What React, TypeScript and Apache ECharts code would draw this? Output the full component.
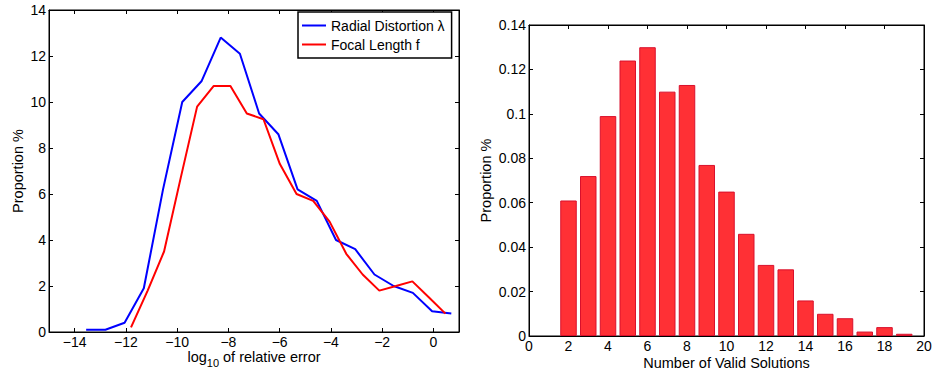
import React, { useEffect, useRef } from "react";
import * as echarts from "echarts";

// Left chart: histogram of log10 relative errors (proportion %)
const radialX = [-13.55, -12.8, -12.05, -11.3, -10.55, -9.8, -9.05, -8.3, -7.55, -6.8, -6.05, -5.3, -4.55, -3.8, -3.05, -2.3, -1.55, -0.8, -0.05, 0.7];
const radialY = [0.1, 0.1, 0.4, 1.9, 6.2, 10.0, 10.9, 12.8, 12.1, 9.5, 8.6, 6.2, 5.7, 4.0, 3.6, 2.5, 2.0, 1.7, 0.9, 0.8];
const focalX = [-11.8, -11.15, -10.51, -9.86, -9.22, -8.57, -7.92, -7.28, -6.63, -5.99, -5.34, -4.69, -4.05, -3.4, -2.76, -2.11, -1.46, -0.82, -0.17, 0.47];
const focalY = [0.2, 1.8, 3.5, 6.7, 9.8, 10.7, 10.7, 9.5, 9.25, 7.3, 6.0, 5.7, 4.8, 3.4, 2.5, 1.8, 2.0, 2.2, 1.5, 0.8];
const leftXTicks = [-14, -12, -10, -8, -6, -4, -2, 0];

// Right chart: number of valid solutions
const solutionCounts = [2, 3, 4, 5, 6, 7, 8, 9, 10, 11, 12, 13, 14, 15, 16, 17, 18, 19];
const solutionProportions = [0.061, 0.072, 0.099, 0.124, 0.13, 0.11, 0.113, 0.077, 0.065, 0.046, 0.032, 0.03, 0.016, 0.01, 0.008, 0.002, 0.004, 0.001];

const FONT = "Liberation Sans";

export default function App() {
  const ref = useRef<HTMLDivElement>(null);
  useEffect(() => {
    document.body.style.margin = "0";
    if (!ref.current) return;
    const chart = echarts.init(ref.current, undefined, { renderer: "svg" });
    const lbl = { color: "#000", fontFamily: FONT, fontSize: 14 };
    const axLine = { show: true, onZero: false, lineStyle: { color: "#000", width: 1 } };
    const tick = { show: true, inside: true, length: 4, lineStyle: { color: "#000", width: 1 } };
    const minus = (v: number) => String(v).replace("-", "\u2212");
    const fmt2 = (v: number) => String(+v.toFixed(2));
    const nameStyle = { color: "#000", fontFamily: FONT, fontSize: 14.5 };
    const gridBase = {
      show: true, borderColor: "#000", borderWidth: 1, backgroundColor: "transparent",
      containLabel: false, outerBoundsMode: "none",
    };

    chart.setOption({
      animation: false,
      textStyle: { fontFamily: FONT },
      grid: [
        { ...gridBase, left: 49, top: 10, width: 410, height: 322 },
        { ...gridBase, left: 529, top: 25, width: 395, height: 311 },
      ],
      legend: {
        left: 298,
        top: 12,
        orient: "vertical",
        backgroundColor: "#fff",
        borderColor: "#000",
        borderWidth: 1.5,
        borderRadius: 0,
        padding: [6, 7, 6, 4],
        itemGap: 4,
        itemWidth: 24,
        itemHeight: 2,
        icon: "rect",
        textStyle: { color: "#000", fontFamily: FONT, fontSize: 14, lineHeight: 15 },
        data: ["Radial Distortion \u03bb", "Focal Length f"],
      },
      xAxis: [
        {
          gridIndex: 0, type: "value", min: -15, max: 1,
          splitLine: { show: false }, axisLine: axLine,
          axisTick: { ...tick, customValues: leftXTicks },
          axisLabel: { ...lbl, margin: 3, customValues: leftXTicks, formatter: minus },
          name: "log{sub|10} of relative error",
          nameLocation: "middle", nameGap: 13, nameMoveOverlap: false,
          nameTextStyle: {
            ...nameStyle,
            rich: { sub: { fontFamily: FONT, fontSize: 11, color: "#000", verticalAlign: "top", padding: [12, 0, 0, 0] } },
          },
        },
        {
          gridIndex: 1, type: "value", min: 0, max: 20, interval: 2,
          splitLine: { show: false }, axisLine: axLine, axisTick: tick,
          axisLabel: { ...lbl, margin: 3 },
          name: "Number of Valid Solutions",
          nameLocation: "middle", nameGap: 19, nameMoveOverlap: false, nameTextStyle: nameStyle,
        },
        {
          gridIndex: 0, type: "value", min: -15, max: 1, position: "top",
          splitLine: { show: false }, axisLine: axLine,
          axisTick: { ...tick, customValues: leftXTicks },
          axisLabel: { show: false, customValues: leftXTicks },
        },
        {
          gridIndex: 1, type: "value", min: 0, max: 20, interval: 2, position: "top",
          splitLine: { show: false }, axisLine: axLine, axisTick: tick,
          axisLabel: { show: false },
        },
      ],
      yAxis: [
        {
          gridIndex: 0, type: "value", min: 0, max: 14, interval: 2,
          splitLine: { show: false }, axisLine: axLine, axisTick: tick,
          axisLabel: { ...lbl, margin: 3 },
          name: "Proportion %", nameLocation: "middle", nameGap: 24, nameMoveOverlap: false, nameTextStyle: nameStyle,
        },
        {
          gridIndex: 1, type: "value", min: 0, max: 0.14, interval: 0.02,
          splitLine: { show: false }, axisLine: axLine, axisTick: tick,
          axisLabel: { ...lbl, margin: 3, formatter: fmt2 },
          name: "Proportion %", nameLocation: "middle", nameGap: 36, nameMoveOverlap: false, nameTextStyle: nameStyle,
        },
        {
          gridIndex: 0, type: "value", min: 0, max: 14, interval: 2, position: "right",
          splitLine: { show: false }, axisLine: axLine, axisTick: tick,
          axisLabel: { show: false },
        },
        {
          gridIndex: 1, type: "value", min: 0, max: 0.14, interval: 0.02, position: "right",
          splitLine: { show: false }, axisLine: axLine, axisTick: tick,
          axisLabel: { show: false },
        },
      ],
      series: [
        {
          name: "Radial Distortion \u03bb", type: "line", xAxisIndex: 0, yAxisIndex: 0,
          showSymbol: false, symbol: "none", color: "#0000ff",
          lineStyle: { color: "#0000ff", width: 2 },
          data: radialX.map((x, i) => [x, radialY[i]]),
        },
        {
          name: "Focal Length f", type: "line", xAxisIndex: 0, yAxisIndex: 0,
          showSymbol: false, symbol: "none", color: "#ff0000",
          lineStyle: { color: "#ff0000", width: 2 },
          data: focalX.map((x, i) => [x, focalY[i]]),
        },
        {
          name: "solutions", type: "bar", xAxisIndex: 1, yAxisIndex: 1,
          barWidth: 16.5,
          itemStyle: { color: "#ff3035", borderColor: "#d9102c", borderWidth: 1 },
          data: solutionCounts.map((x, i) => [x, solutionProportions[i]]),
        },
      ],
    });
    return () => chart.dispose();
  }, []);
  return <div ref={ref} style={{ width: 934, height: 373 }} />;
}
